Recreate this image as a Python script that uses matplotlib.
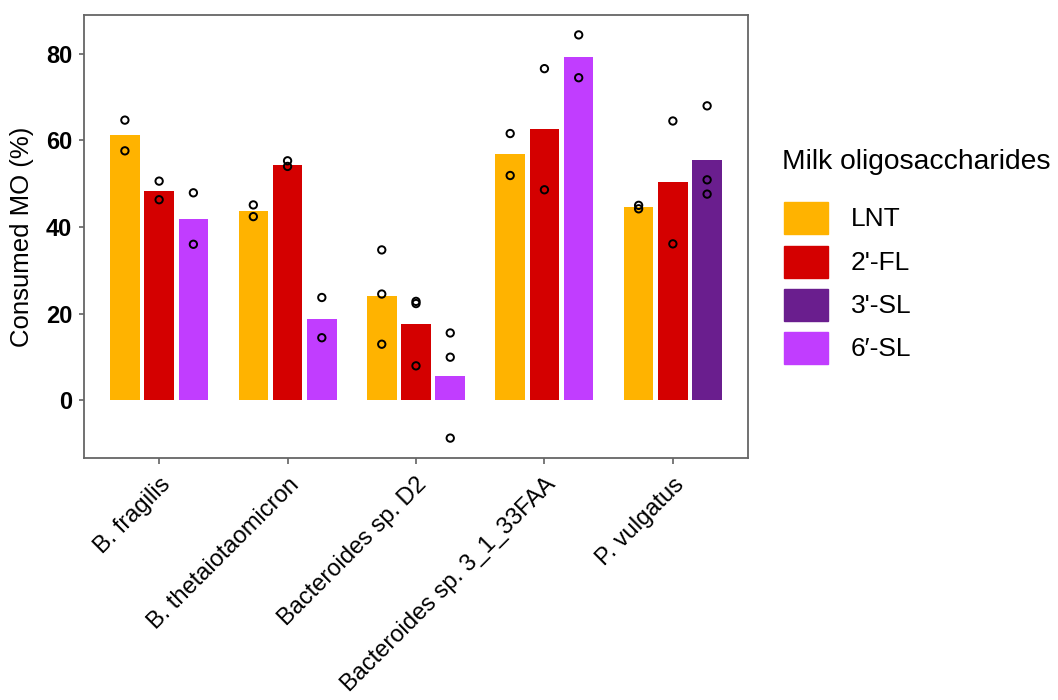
import matplotlib
matplotlib.use("Agg")
import matplotlib.pyplot as plt
from matplotlib.patches import Rectangle
import numpy as np

plt.rcParams['font.family'] = ['Liberation Sans', 'DejaVu Sans']

species = ["B. fragilis", "B. thetaiotaomicron", "Bacteroides sp. D2",
           "Bacteroides sp. 3_1_33FAA", "P. vulgatus"]
oligos = ["LNT", "2\u2032-FL", "3\u2032-SL", "6\u2032-SL"]
legend_labels = ["LNT", "2'-FL", "3'-SL", "6\u2032-SL"]
colors = {"LNT": "#FFB300", "2\u2032-FL": "#D40000", "3\u2032-SL": "#6A1E8E", "6\u2032-SL": "#C13DFF"}

# oligos present per species (in order) and replicate values
present = [
    ["LNT", "2\u2032-FL", "6\u2032-SL"],
    ["LNT", "2\u2032-FL", "6\u2032-SL"],
    ["LNT", "2\u2032-FL", "6\u2032-SL"],
    ["LNT", "2\u2032-FL", "6\u2032-SL"],
    ["LNT", "2\u2032-FL", "3\u2032-SL"],
]
replicates = [
    [[64.7, 57.6], [50.6, 46.3], [47.9, 36.0]],
    [[45.1, 42.4], [55.3, 54.0], [23.7, 14.4]],
    [[34.7, 24.5, 12.9], [22.8, 22.3, 7.9], [15.5, 9.9, -8.8]],
    [[61.6, 51.9], [76.6, 48.6], [84.4, 74.5]],
    [[45.0, 44.2], [64.5, 36.1], [68.0, 50.9, 47.6]],
]
bar_means = [
    [61.2, 48.4, 41.9],
    [43.8, 54.3, 18.8],
    [24.0, 17.6, 5.5],
    [56.8, 62.6, 79.4],
    [44.6, 50.3, 55.5],
]

fig = plt.figure(figsize=(10.58, 7.0), dpi=100)
ax = fig.add_axes([84/1058, 1 - 458/700, (748-84)/1058, (458-15)/700])

slot = 0.8 / 3
bw = 0.23
for i, (ol, reps, means) in enumerate(zip(present, replicates, bar_means)):
    x0 = i + 1
    for j, (o, r, m) in enumerate(zip(ol, reps, means)):
        xc = x0 + (j - 1) * slot
        ax.bar(xc, m, width=bw, color=colors[o], zorder=2)
        ax.scatter([xc] * len(r), r, s=28, facecolors='none', edgecolors='black',
                   linewidths=1.4, zorder=3)

ax.set_xlim(0.415, 5.585)
ax.set_ylim(-13.4, 89.0)
ax.set_yticks([0, 20, 40, 60, 80])
ax.set_yticklabels(["0", "20", "40", "60", "80"], fontsize=17, fontweight='bold')
ax.set_xticks(np.arange(1, 6))
ax.set_xticklabels(species, rotation=45, ha='right', va='top', rotation_mode='anchor',
                   fontsize=17)
ax.tick_params(axis='y', direction='out', length=3.6, color='#555555', width=1.1, pad=5)
ax.tick_params(axis='x', direction='out', length=4.3, color='#555555', width=1.1, pad=7)
ax.set_ylabel("Consumed MO (%)", fontsize=18.5)
ax.yaxis.set_label_coords(-0.075, 0.5)
for s in ax.spines.values():
    s.set_color('#666666')
    s.set_linewidth(1.3)

# legend
fig.text(782/1058, 1 - 162/700, "Milk oligosaccharides", fontsize=20.3, va='center', ha='left')
key_tops = [202, 246, 289, 332]
for lab, o, yt in zip(legend_labels, oligos, key_tops):
    fig.patches.append(Rectangle((784/1058, 1 - (yt + 32)/700), 44/1058, 32/700,
                                 transform=fig.transFigure, color=colors[o]))
    fig.text(851/1058, 1 - (yt + 17)/700, lab, fontsize=19, va='center', ha='left')

fig.savefig("out.png", dpi=100)
